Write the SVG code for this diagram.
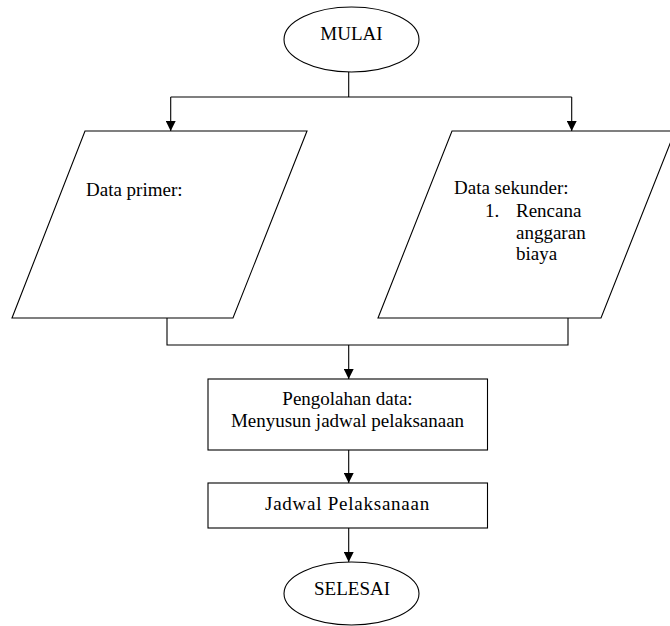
<svg xmlns="http://www.w3.org/2000/svg" width="670" height="626" viewBox="0 0 670 626">
<defs>
<style>
.s{fill:#fff;stroke:#000;stroke-width:1.1}
.c{fill:none;stroke:#000;stroke-width:1.1}
text{font-family:"Liberation Serif","Times New Roman",serif;font-size:19px;fill:#000}
.m{text-anchor:middle}
</style>
<marker id="ah" markerWidth="10" markerHeight="10" viewBox="0 0 10 10" refX="10" refY="5" orient="auto" markerUnits="userSpaceOnUse">
<path d="M0,0 L10,5 L0,10 Z" fill="#000"/>
</marker>
</defs>
<rect width="670" height="626" fill="#fff"/>
<g id="connectors">
<polyline class="c" points="348.7,72 348.7,97"/>
<polyline class="c" points="170.7,97 571.7,97"/>
<line class="c" x1="170.7" y1="97" x2="170.7" y2="131" marker-end="url(#ah)"/>
<line class="c" x1="571.7" y1="97" x2="571.7" y2="131" marker-end="url(#ah)"/>
<polyline class="c" points="167,318 167,345 568,345 568,318"/>
<line class="c" x1="348.7" y1="345" x2="348.7" y2="379" marker-end="url(#ah)"/>
<line class="c" x1="348.7" y1="450" x2="348.7" y2="483" marker-end="url(#ah)"/>
<line class="c" x1="348.7" y1="528" x2="348.7" y2="562" marker-end="url(#ah)"/>
</g>
<g id="mulai">
<ellipse class="s" cx="351.5" cy="39.5" rx="67.5" ry="32.5"/>
<text class="m" x="351.5" y="39.5">MULAI</text>
</g>
<g id="data-primer">
<polygon class="s" points="85,131 307,131 233,318 12,318"/>
<text x="86" y="196">Data primer:</text>
</g>
<g id="data-sekunder">
<polygon class="s" points="452,131 675,131 601,318 378,318"/>
<text x="454" y="194">Data sekunder:</text>
<text x="485" y="217">1.</text>
<text x="516" y="217">Rencana</text>
<text x="516" y="238.5">anggaran</text>
<text x="516" y="260">biaya</text>
</g>
<g id="pengolahan">
<rect class="s" x="208" y="379" width="279.5" height="71"/>
<text class="m" x="347.5" y="405">Pengolahan data:</text>
<text class="m" x="347.5" y="426.5">Menyusun jadwal pelaksanaan</text>
</g>
<g id="jadwal">
<rect class="s" x="208" y="483" width="279.5" height="45"/>
<text class="m" x="347.5" y="510" letter-spacing="0.75">Jadwal Pelaksanaan</text>
</g>
<g id="selesai">
<ellipse class="s" cx="351.5" cy="593.5" rx="67.5" ry="31.5"/>
<text class="m" x="352" y="595">SELESAI</text>
</g>
</svg>
